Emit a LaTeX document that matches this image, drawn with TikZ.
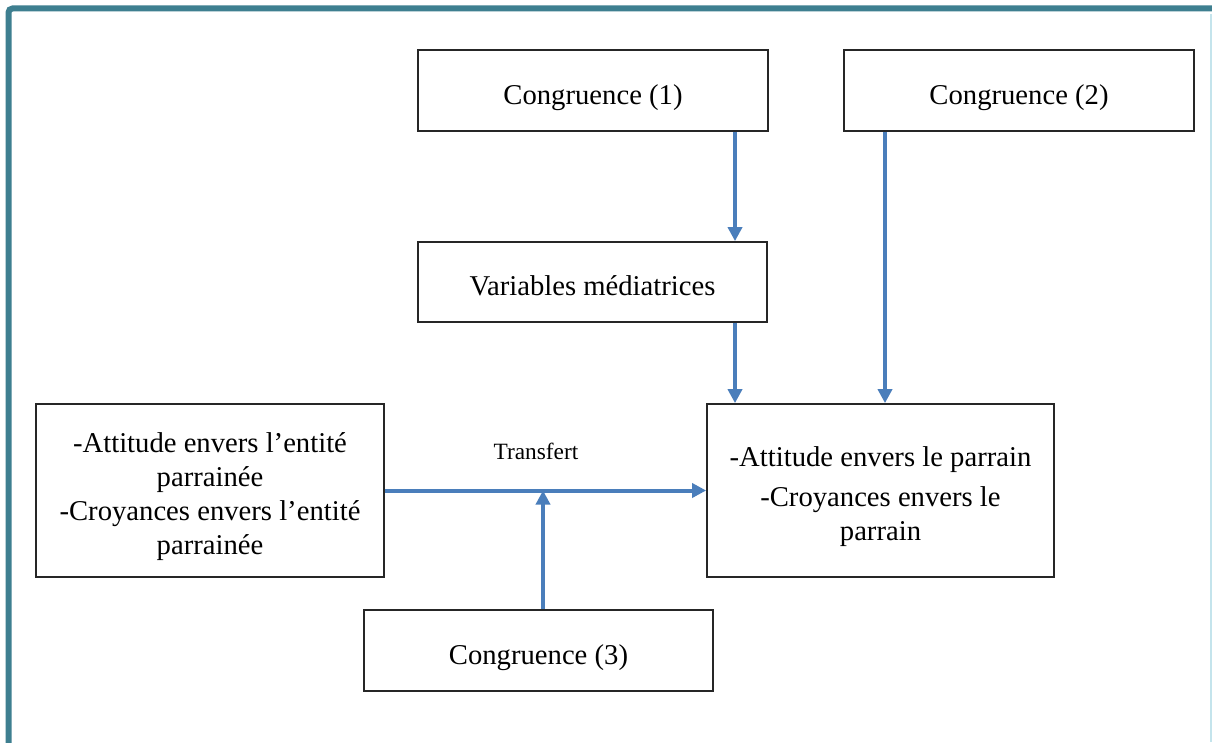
\documentclass[tikz,border=0pt]{standalone}
\usepackage{fontspec}
\setmainfont{Liberation Serif}
\usetikzlibrary{arrows.meta}
\definecolor{frameteal}{HTML}{3E7F90}
\definecolor{linkblue}{HTML}{4A7EBB}
\definecolor{paleedge}{HTML}{C4E4EC}
\tikzset{
  box/.style={draw=black!85, line width=1.3pt, fill=white, inner sep=0pt},
  boxtext/.style={inner sep=0pt, align=center, font=\fontsize{21.5}{25.5}\selectfont},
  link/.style={draw=linkblue, line width=3pt,
               -{Triangle[length=10.5pt,width=10.5pt]}},
  lbl/.style={font=\fontsize{17.5}{21}\selectfont}
}
\begin{document}
\begin{tikzpicture}[x=0.75pt,y=-0.75pt]
  \useasboundingbox (0,0) rectangle (1212,742);
  \fill[white] (0,0) rectangle (1212,742);
  % outer frame, only its top and left sides fall inside the page
  \begin{scope}
    \clip (0,0) rectangle (1212,742);
    \draw[frameteal, line width=4.5pt, rounded corners=3pt] (8.5,8.5) rectangle (1240,780);
    \draw[paleedge, line width=1.5pt] (1210.5,14) -- (1210.5,742);
  \end{scope}

  % boxes
  \node[box, minimum width=350*0.75pt, minimum height=81*0.75pt] (c1) at (593,90.5) {};
  \node[box, minimum width=350*0.75pt, minimum height=81*0.75pt] (c2) at (1019,90.5) {};
  \node[box, minimum width=349*0.75pt, minimum height=80*0.75pt] (var) at (592.5,282) {};
  \node[box, minimum width=348*0.75pt, minimum height=173*0.75pt] (ent) at (210,490.5) {};
  \node[box, minimum width=347*0.75pt, minimum height=173*0.75pt] (par) at (880.5,490.5) {};
  \node[box, minimum width=349*0.75pt, minimum height=81*0.75pt] (c3) at (538.5,650.5) {};

  % box texts, set slightly below the box centres
  \node[boxtext] (c1t) at ([yshift=-5pt]c1.center) {Congruence (1)};
  \node[boxtext] (c2t) at ([yshift=-5pt]c2.center) {Congruence (2)};
  \node[boxtext] (vart) at ([yshift=-3pt]var.center) {Variables médiatrices};
  \node[boxtext] (entt) at ([yshift=-4.5pt]ent.center)
    {-Attitude envers l’entité\\ parrainée\\ -Croyances envers l’entité\\ parrainée};
  \node[boxtext] (part) at ([yshift=-4.5pt]par.center)
    {-Attitude envers le parrain\\[4pt] -Croyances envers le\\ parrain};
  \node[boxtext] (c3t) at ([yshift=-5pt]c3.center) {Congruence (3)};

  % connectors
  \coordinate (x1) at (735,0);
  \coordinate (x2) at (885,0);
  \draw[link] (c1.south -| x1) -- (var.north -| x1);
  \draw[link] (var.south -| x1) -- (par.north -| x1);
  \draw[link] (c2.south -| x2) -- (par.north -| x2);
  \draw[link] (ent.east) -- (par.west);
  \coordinate (tj) at (543,490.5);
  \draw[link] (c3.north -| tj) -- (tj);

  \node[lbl] (tr) at (536,451) {Transfert};
\end{tikzpicture}
\end{document}
